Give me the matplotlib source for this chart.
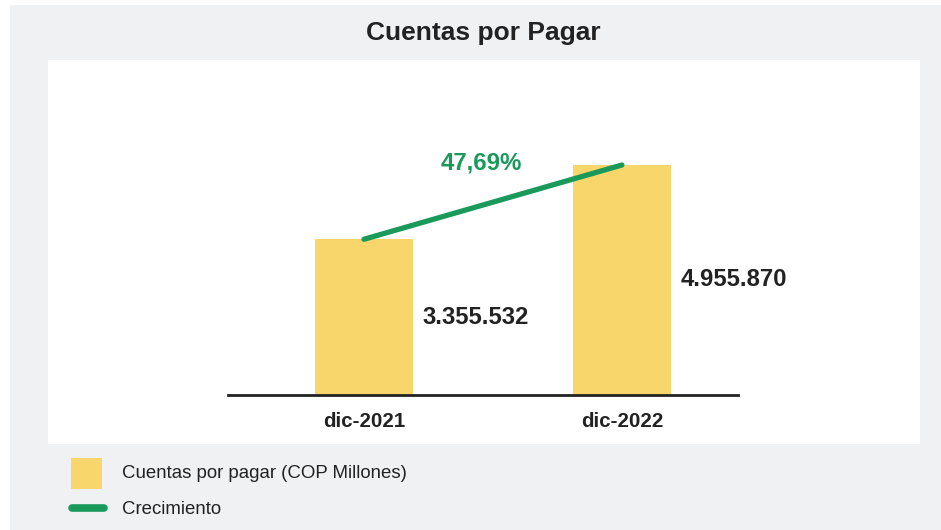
import matplotlib
matplotlib.use('Agg')
import matplotlib.pyplot as plt
from matplotlib.patches import Rectangle
from matplotlib.lines import Line2D

# datos
categorias = ['dic-2021', 'dic-2022']
cuentas = [3355532, 4955870]
crecimiento_txt = '47,69%'
etiquetas = ['3.355.532', '4.955.870']
leyenda = ['Cuentas por pagar (COP Millones)', 'Crecimiento']

AMARILLO = '#f9d66b'
VERDE = '#1a9a5a'
GRIS = '#f0f1f3'
TEXTO = '#222222'

plt.rcParams['font.family'] = ['Liberation Sans', 'DejaVu Sans']

W, H = 941, 530
fig = plt.figure(figsize=(W / 100, H / 100), dpi=100)
fig.patch.set_facecolor('white')


def px(x0, y0, x1, y1):
    # caja en pixeles -> fracciones de figura
    return [x0 / W, 1 - y1 / H, (x1 - x0) / W, (y1 - y0) / H]


def rect(x0, y0, x1, y1, color):
    r = px(x0, y0, x1, y1)
    fig.patches.append(Rectangle((r[0], r[1]), r[2], r[3], transform=fig.transFigure,
                                 facecolor=color, edgecolor='none', zorder=-10))


rect(10, 5, W, H, GRIS)
rect(48, 60, 920, 444, 'white')

fig.text(483 / W, 1 - 33 / H, 'Cuentas por Pagar', ha='center', va='center',
         fontsize=19, fontweight='bold', color=TEXTO)

ax = fig.add_axes(px(228, 80, 738, 395))
ax.set_facecolor('none')

x = [0, 1]
ax.bar(x, cuentas, width=0.38, color=AMARILLO, zorder=2)
ax.plot(x, cuentas, color=VERDE, linewidth=3.8, solid_capstyle='round', zorder=3)

ymax = 315 * cuentas[1] / 230
ax.set_ylim(0, ymax)
ax.set_xlim(-0.527, 1.45)

for xi, v, t in zip(x, cuentas, etiquetas):
    ax.text(xi + 0.19 + 0.037, v / 2, t, ha='left', va='center',
            fontsize=17.2, fontweight='bold', color=TEXTO)

ax.text(0.455, ymax * (1 - (163 - 80) / 315), crecimiento_txt, ha='center', va='center',
        fontsize=17.3, fontweight='bold', color=VERDE)

for s in ['top', 'right', 'left']:
    ax.spines[s].set_visible(False)
ax.spines['bottom'].set_linewidth(2)
ax.spines['bottom'].set_color(TEXTO)
ax.set_yticks([])
ax.set_xticks(x)
ax.set_xticklabels(categorias, fontsize=14.8, fontweight='bold', color=TEXTO)
ax.tick_params(axis='x', length=0, pad=12)

# leyenda manual
rect(71, 458, 102, 489, AMARILLO)
fig.lines.append(Line2D([72 / W, 104 / W], [1 - 508 / H, 1 - 508 / H], transform=fig.transFigure,
                        color=VERDE, linewidth=5.5, solid_capstyle='round'))
fig.text(122 / W, 1 - 473 / H, leyenda[0], ha='left', va='center', fontsize=13.4, color=TEXTO)
fig.text(122 / W, 1 - 509 / H, leyenda[1], ha='left', va='center', fontsize=13.4, color=TEXTO)

fig.savefig('out.png', dpi=100)
